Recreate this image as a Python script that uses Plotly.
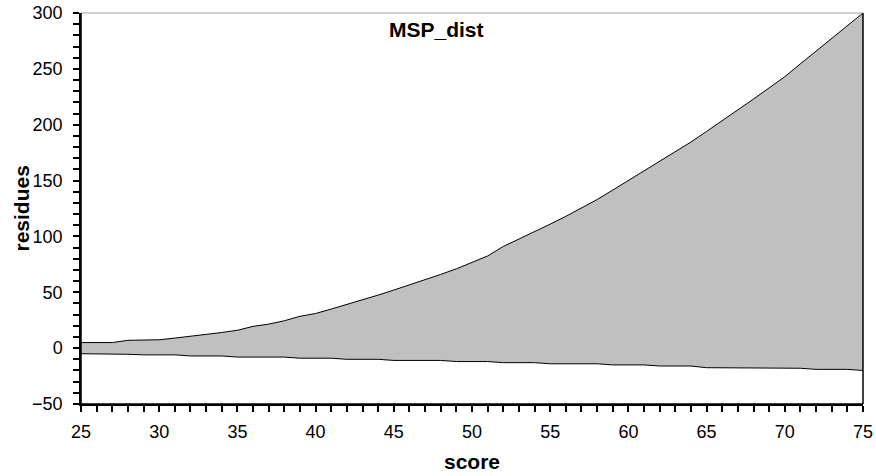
import plotly.graph_objects as go

score = list(range(25, 76))
upper = [5, 5, 5, 7, 7, 7.5, 9, 10.5, 12, 14,
         16, 19.5, 21.5, 24.5, 28.5, 31, 35, 39, 43, 47.5,
         52, 56.5, 61, 66, 71, 76.5, 82.5, 91, 97.5, 104,
         111, 118, 125.5, 133, 141.5, 150, 158.5, 167, 175.5, 184.5,
         194, 203.5, 213, 223, 233, 243, 254.5, 266, 277, 288.5,
         300]
lower = [-5, -5, -5, -5.5, -6, -6, -6, -7, -7, -7,
         -8, -8, -8, -8, -9, -9, -9, -10, -10, -10,
         -11, -11, -11, -11, -12, -12, -12, -13, -13, -13,
         -14, -14, -14, -14, -15, -15, -15, -16, -16, -16,
         -17.5, -17.5, -17.5, -17.5, -18, -18, -18, -19, -19, -19,
         -20]

FONT = "Liberation Sans, Arial, sans-serif"

fig = go.Figure()
fig.add_trace(go.Scatter(x=score, y=lower, mode="lines",
                         line=dict(color="black", width=1), showlegend=False))
fig.add_trace(go.Scatter(x=score, y=upper, mode="lines", fill="tonexty",
                         fillcolor="#c0c0c0",
                         line=dict(color="black", width=1), showlegend=False))

fig.update_layout(
    width=876, height=476,
    margin=dict(l=81, r=13, t=13, b=72, autoexpand=False),
    paper_bgcolor="white", plot_bgcolor="white",
    font=dict(family=FONT, size=18, color="black"),
    showlegend=False,
)
fig.update_xaxes(
    range=[25, 75], dtick=5, tick0=25, automargin=False,
    showgrid=False, zeroline=False,
    showline=True, linecolor="#000000", linewidth=1.5,
    ticks="outside", ticklen=6, tickwidth=1.5, tickcolor="#000000",
    minor=dict(dtick=1, ticks="outside", ticklen=6, tickwidth=1.5, tickcolor="#000000", showgrid=False),
    ticklabelstandoff=5,
)
fig.update_yaxes(
    range=[-50, 300], dtick=50, tick0=0, automargin=False,
    showgrid=False, zeroline=False,
    showline=True, linecolor="#000000", linewidth=1.5,
    ticks="outside", ticklen=6, tickwidth=1.5, tickcolor="#000000",
    minor=dict(dtick=10, ticks="outside", ticklen=6, tickwidth=1.5, tickcolor="#000000", showgrid=False),
    ticklabelstandoff=7,
)
fig.add_shape(type="line", xref="paper", yref="paper", x0=0, x1=1, y0=1, y1=1,
              line=dict(color="#a0a0a0", width=1))
fig.add_shape(type="line", xref="paper", yref="paper", x0=1, x1=1, y0=0, y1=1,
              line=dict(color="black", width=1.5))
fig.add_shape(type="line", xref="paper", yref="paper", x0=0, x1=0, y0=0, y1=1,
              line=dict(color="black", width=1.5))
fig.add_shape(type="line", xref="paper", yref="paper", x0=0, x1=1, y0=0, y1=0,
              line=dict(color="black", width=1.5))
fig.add_annotation(text="<b>MSP_dist</b>", xref="paper", yref="paper",
                   x=0.454, y=0.957, xanchor="center", yanchor="middle",
                   showarrow=False, font=dict(size=21, family=FONT))
fig.add_annotation(text="<b>score</b>", xref="paper", yref="paper",
                   x=0.5, y=-0.148, xanchor="center", yanchor="middle",
                   showarrow=False, font=dict(size=21, family=FONT))
fig.add_annotation(text="<b>residues</b>", xref="paper", yref="paper",
                   x=-0.0767, y=0.5, xanchor="center", yanchor="middle",
                   showarrow=False, textangle=-90,
                   font=dict(size=21, family=FONT))

fig.write_html("out.html")
